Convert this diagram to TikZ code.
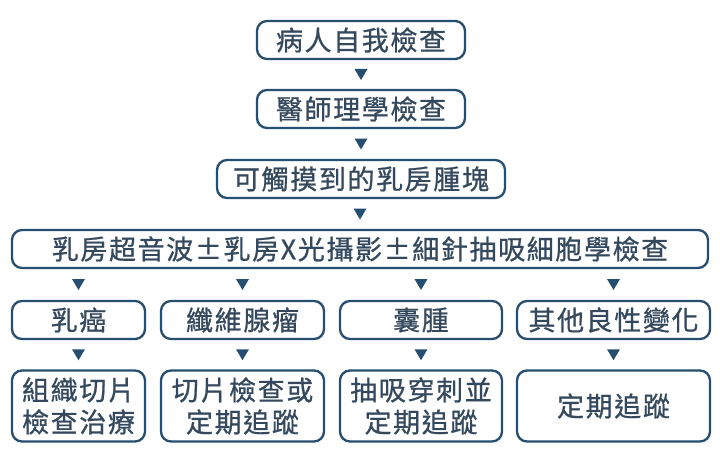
\documentclass[tikz,border=0pt]{standalone}
\usepackage{fontspec}
\setmainfont{Noto Sans CJK TC}[LetterSpace=6,FakeBold=0.8]
\usetikzlibrary{calc}
\definecolor{boxblue}{HTML}{264E70}
\definecolor{txtblue}{HTML}{34495E}
\tikzset{
  stepbox/.style={draw=boxblue, line width=2.3pt, rounded corners=10pt, fill=white,
    text=txtblue, font=\fontsize{27}{32}\selectfont, align=center, inner sep=0pt},
  tri/.style={fill=boxblue}
}
\newcommand{\dntri}[2]{%
  \path let \p1=(#1.south), \p2=(#2.north) in coordinate (m) at (\x2,{(\y1+\y2)/2});
  \fill[tri] ($(m)+(-6.5,-5.5)$) -- ($(m)+(6.5,-5.5)$) -- ($(m)+(0,5.5)$) -- cycle;}
\begin{document}
\begin{tikzpicture}[x=1pt,y=-1pt]
\useasboundingbox (0,0) rectangle (720,460);
\node[stepbox, minimum width=208, minimum height=38] (b1) at (361,40) {病人自我檢查};
\node[stepbox, minimum width=208, minimum height=38] (b2) at (361,109) {醫師理學檢查};
\node[stepbox, minimum width=288, minimum height=38] (b3) at (361,179) {可觸摸到的乳房腫塊};
\node[stepbox, minimum width=696, minimum height=38] (b4) at (360,249) {乳房超音波±乳房X光攝影±細針抽吸細胞學檢查};
\node[stepbox, minimum width=133, minimum height=38] (c1) at (78.5,320) {乳癌};
\node[stepbox, minimum width=163, minimum height=38] (c2) at (242.5,320) {纖維腺瘤};
\node[stepbox, minimum width=162, minimum height=38] (c3) at (421,320) {囊腫};
\node[stepbox, minimum width=193, minimum height=38] (c4) at (613.5,320) {其他良性變化};
\node[stepbox, minimum width=133, minimum height=71] (d1) at (78.5,406) {組織切片\\檢查治療};
\node[stepbox, minimum width=163, minimum height=71] (d2) at (242.5,406) {切片檢查或\\定期追蹤};
\node[stepbox, minimum width=162, minimum height=71] (d3) at (421,406) {抽吸穿刺並\\定期追蹤};
\node[stepbox, minimum width=193, minimum height=71] (d4) at (613.5,406) {定期追蹤};
\dntri{b1}{b2}
\dntri{b2}{b3}
\dntri{b3}{b4}
\dntri{b4}{c1}
\dntri{b4}{c2}
\dntri{b4}{c3}
\dntri{b4}{c4}
\dntri{c1}{d1}
\dntri{c2}{d2}
\dntri{c3}{d3}
\dntri{c4}{d4}
\end{tikzpicture}
\end{document}
